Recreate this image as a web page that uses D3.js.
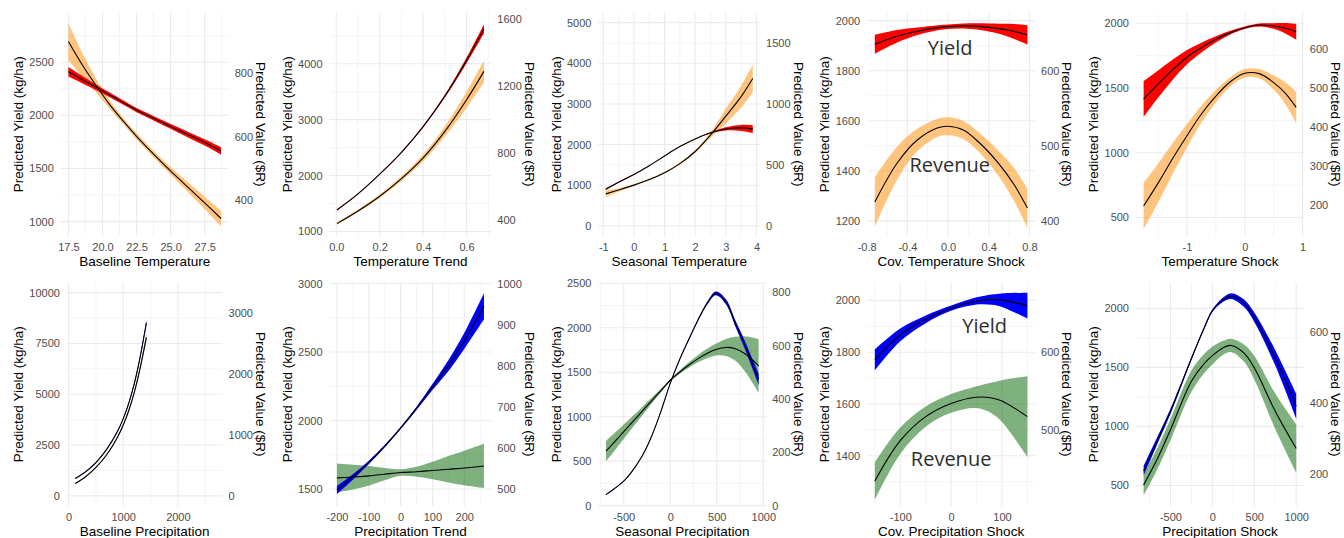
<!DOCTYPE html>
<html><head><meta charset="utf-8">
<script src="https://cdn.jsdelivr.net/npm/d3@7"></script>
<style>body{margin:0;background:#fff}svg{display:block}</style>
</head><body>
<svg id="chart" width="1344" height="538"></svg>
<script>
// ---------------- DATA ----------------
const xTitles = ["Baseline Temperature", "Temperature Trend", "Seasonal Temperature", "Cov. Temperature Shock", "Temperature Shock",
                 "Baseline Precipitation", "Precipitation Trend", "Seasonal Precipitation", "Cov. Precipitation Shock", "Precipitation Shock"];
const yTitle = "Predicted Yield (kg/ha)";
const secTitle = "Predicted Value ($R)";
const valuePerYield = 1 / 3;   // secondary axis: value = yield / 3

// 1 Baseline Temperature
const p1X = [17.5, 18.5, 19.5, 20.5, 21.5, 22.5, 23.5, 24.5, 25.5, 26.5, 27.5, 28.7];
const p1Yield = [2410, 2338, 2266, 2194, 2122, 2050, 1988, 1926, 1865, 1805, 1745, 1665];
const p1YieldHW = [45, 35, 27, 22, 20, 20, 20, 22, 24, 27, 30, 35];
const p1Rev = [898, 826, 762, 702, 650, 601, 556, 513, 472, 432, 392, 343];
const p1RevHW = [58, 38, 22, 13, 10, 10, 10, 11, 13, 16, 19, 24];
const p1XLim = [17.5, 28.7], p1YLim = [960, 2872];
const p1XTicks = [17.5, 20, 22.5, 25, 27.5], p1YTicks = [1000, 1500, 2000, 2500], p1SecTicks = [400, 600, 800];

// 2 Temperature Trend
const p2X = [0.003, 0.1, 0.2, 0.3, 0.4, 0.5, 0.6, 0.68];
const p2Yield = [1383, 1673, 2025, 2415, 2876, 3420, 4060, 4627];
const p2YieldHW = [10, 8, 8, 10, 15, 25, 50, 80];
const p2Rev = [380, 455, 543, 648, 772, 930, 1119, 1288];
const p2RevHW = [8, 8, 10, 14, 20, 30, 48, 65];
const p2XLim = [0.003, 0.68], p2YLim = [1100, 4735];
const p2XTicks = [0, 0.2, 0.4, 0.6], p2YTicks = [1000, 2000, 3000, 4000], p2SecTicks = [400, 800, 1200, 1600];

// 3 Seasonal Temperature
const p3X = [-0.92, -0.5, 0, 0.5, 1, 1.5, 2, 2.5, 3, 3.5, 3.88];
const p3Yield = [901, 1075, 1265, 1480, 1720, 1950, 2140, 2290, 2385, 2410, 2380];
const p3YieldHW = [20, 12, 8, 6, 6, 6, 8, 15, 40, 74, 94];
const p3Rev = [262, 294, 334, 380, 436, 510, 610, 745, 900, 1060, 1208];
const p3RevHW = [27, 15, 8, 6, 7, 9, 12, 22, 60, 90, 112];
const p3XLim = [-0.92, 3.88], p3YLim = [0, 5000];
const p3XTicks = [-1, 0, 1, 2, 3, 4], p3YTicks = [0, 1000, 2000, 3000, 4000, 5000], p3SecTicks = [0, 500, 1000, 1500];

// 4 Cov. Temperature Shock
const p4X = [-0.72, -0.5, -0.3, -0.1, 0, 0.15, 0.3, 0.5, 0.65, 0.78];
const p4Yield = [1906, 1938, 1958, 1972, 1976, 1979, 1977, 1968, 1957, 1943];
const p4YieldHW = [38, 25, 15, 10, 9, 10, 13, 20, 30, 38];
const p4Rev = [425, 477, 508, 524, 526, 521, 505, 476, 448, 417];
const p4RevHW = [33, 22, 15, 12, 12, 12, 13, 17, 22, 26];
const p4XLim = [-0.72, 0.78], p4YLim = [1180, 1992];
const p4XTicks = [-0.8, -0.4, 0, 0.4, 0.8], p4YTicks = [1200, 1400, 1600, 1800, 2000], p4SecTicks = [400, 500, 600];

// 5 Temperature Shock
const p5X = [-1.75, -1.5, -1.25, -1, -0.75, -0.5, -0.25, 0, 0.25, 0.5, 0.7, 0.89];
const p5Yield = [1415, 1530, 1640, 1738, 1812, 1876, 1928, 1966, 1987, 1979, 1962, 1935];
const p5YieldHW = [138, 105, 78, 55, 38, 24, 14, 10, 12, 22, 40, 60];
const p5Rev = [196, 255, 318, 377, 433, 479, 516, 538, 537, 514, 487, 450];
const p5RevHW = [60, 50, 40, 30, 22, 16, 12, 11, 12, 18, 28, 40];
const p5XLim = [-1.75, 0.89], p5YLim = [435, 2005];
const p5XTicks = [-1, 0, 1], p5YTicks = [500, 1000, 1500, 2000], p5SecTicks = [200, 300, 400, 500, 600];

// 6 Baseline Precipitation
const p6X = [120, 300, 500, 700, 900, 1000, 1100, 1200, 1300, 1424];
const p6Yield = [850, 1160, 1640, 2300, 3200, 3800, 4550, 5500, 6700, 8520];
const p6YieldHW = [15, 15, 20, 25, 35, 45, 55, 70, 90, 120];
const p6Rev = [202, 305, 466, 678, 970, 1162, 1396, 1689, 2057, 2600];
const p6RevHW = [8, 8, 10, 12, 16, 20, 25, 32, 42, 55];
const p6XLim = [98, 2688], p6YLim = [0, 10000];
const p6XTicks = [0, 1000, 2000], p6YTicks = [0, 2500, 5000, 7500, 10000], p6SecTicks = [0, 1000, 2000, 3000];

// 7 Precipitation Trend
const p7X = [-200, -150, -100, -50, 0, 50, 100, 150, 200, 262];
const p7Yield = [1493, 1588, 1694, 1812, 1944, 2088, 2244, 2400, 2580, 2834];
const p7YieldHW = [30, 20, 13, 9, 8, 12, 22, 40, 58, 95];
const p7Rev = [527, 529, 532, 536, 540, 542, 545, 548, 551, 556];
const p7RevHW = [35, 30, 24, 15, 8, 12, 21, 32, 42, 54];
const p7XLim = [-200, 262], p7YLim = [1450, 2933];
const p7XTicks = [-200, -100, 0, 100, 200], p7YTicks = [1500, 2000, 2500, 3000], p7SecTicks = [500, 600, 700, 800, 900, 1000];

// 8 Seasonal Precipitation
const p8X = [-690, -600, -500, -400, -300, -200, -100, 0, 100, 200, 300, 400, 490, 600, 700, 800, 950];
const p8Yield = [124, 190, 275, 400, 560, 780, 1060, 1375, 1640, 1870, 2090, 2280, 2387, 2290, 2050, 1812, 1421];
const p8YieldHW = [4, 4, 4, 5, 5, 5, 6, 6, 7, 9, 11, 15, 20, 28, 35, 45, 65];
const p8Rev = [204, 238, 277, 316, 354, 393, 431, 470, 500, 527, 551, 571, 585, 593, 588, 570, 524];
const p8RevHW = [38, 33, 27, 21, 16, 11, 7, 5, 7, 10, 14, 18, 22, 32, 45, 65, 100];
const p8XLim = [-690, 950], p8YLim = [110, 2395];
const p8XTicks = [-500, 0, 500, 1000], p8YTicks = [0, 500, 1000, 1500, 2000, 2500], p8SecTicks = [0, 200, 400, 600, 800];

// 9 Cov. Precipitation Shock
const p9X = [-150, -100, -50, 0, 50, 80, 100, 150];
const p9Yield = [1770, 1867, 1927, 1970, 1998, 2003, 2001, 1980];
const p9YieldHW = [41, 25, 15, 10, 14, 20, 26, 50];
const p9Rev = [434, 486, 517, 534, 542, 541, 537, 517];
const p9RevHW = [24, 17, 13, 12, 14, 20, 27, 52];
const p9XLim = [-150, 150], p9YLim = [1245, 2030];
const p9XTicks = [-100, 0, 100], p9YTicks = [1400, 1600, 1800, 2000], p9SecTicks = [500, 600];

// 10 Precipitation Shock
const p10X = [-820, -650, -500, -250, -100, 0, 125, 225, 375, 500, 750, 1000];
const p10Yield = [624, 890, 1127, 1575, 1830, 1980, 2072, 2104, 2045, 1925, 1581, 1171];
const p10YieldHW = [40, 30, 22, 14, 12, 12, 18, 25, 32, 40, 65, 106];
const p10Rev = [168, 245, 324, 461, 510, 533, 555, 562, 541, 499, 376, 271];
const p10RevHW = [30, 30, 30, 30, 27, 25, 20, 19, 24, 33, 50, 68];
const p10XLim = [-820, 1000], p10YLim = [412, 2133];
const p10XTicks = [-500, 0, 500, 1000], p10YTicks = [500, 1000, 1500, 2000], p10SecTicks = [200, 400, 600];

// in-panel labels (data coordinates, yield units)
const p4Labels = [{text: "Yield", x: 0.02, y: 1892}, {text: "Revenue", x: 0.017, y: 1426}];
const p9Labels = [{text: "Yield", x: 66, y: 1904}, {text: "Revenue", x: 0, y: 1388}];

// ---------------- BUILD ----------------
const panels = [
  {x: p1X, yld: p1Yield, yldHW: p1YieldHW, rev: p1Rev, revHW: p1RevHW, xLim: p1XLim, yLim: p1YLim, xTicks: p1XTicks, yTicks: p1YTicks, secTicks: p1SecTicks, xFmt: ".1f", kind: "temp"},
  {x: p2X, yld: p2Yield, yldHW: p2YieldHW, rev: p2Rev, revHW: p2RevHW, xLim: p2XLim, yLim: p2YLim, xTicks: p2XTicks, yTicks: p2YTicks, secTicks: p2SecTicks, xFmt: ".1f", kind: "temp"},
  {x: p3X, yld: p3Yield, yldHW: p3YieldHW, rev: p3Rev, revHW: p3RevHW, xLim: p3XLim, yLim: p3YLim, xTicks: p3XTicks, yTicks: p3YTicks, secTicks: p3SecTicks, xFmt: "d", kind: "temp"},
  {x: p4X, yld: p4Yield, yldHW: p4YieldHW, rev: p4Rev, revHW: p4RevHW, xLim: p4XLim, yLim: p4YLim, xTicks: p4XTicks, yTicks: p4YTicks, secTicks: p4SecTicks, xFmt: ".1f", kind: "temp", labels: p4Labels},
  {x: p5X, yld: p5Yield, yldHW: p5YieldHW, rev: p5Rev, revHW: p5RevHW, xLim: p5XLim, yLim: p5YLim, xTicks: p5XTicks, yTicks: p5YTicks, secTicks: p5SecTicks, xFmt: "d", kind: "temp"},
  {x: p6X, yld: p6Yield, yldHW: p6YieldHW, rev: p6Rev, revHW: p6RevHW, xLim: p6XLim, yLim: p6YLim, xTicks: p6XTicks, yTicks: p6YTicks, secTicks: p6SecTicks, xFmt: "d", kind: "precip"},
  {x: p7X, yld: p7Yield, yldHW: p7YieldHW, rev: p7Rev, revHW: p7RevHW, xLim: p7XLim, yLim: p7YLim, xTicks: p7XTicks, yTicks: p7YTicks, secTicks: p7SecTicks, xFmt: "d", kind: "precip"},
  {x: p8X, yld: p8Yield, yldHW: p8YieldHW, rev: p8Rev, revHW: p8RevHW, xLim: p8XLim, yLim: p8YLim, xTicks: p8XTicks, yTicks: p8YTicks, secTicks: p8SecTicks, xFmt: "d", kind: "precip"},
  {x: p9X, yld: p9Yield, yldHW: p9YieldHW, rev: p9Rev, revHW: p9RevHW, xLim: p9XLim, yLim: p9YLim, xTicks: p9XTicks, yTicks: p9YTicks, secTicks: p9SecTicks, xFmt: "d", kind: "precip", labels: p9Labels},
  {x: p10X, yld: p10Yield, yldHW: p10YieldHW, rev: p10Rev, revHW: p10RevHW, xLim: p10XLim, yLim: p10YLim, xTicks: p10XTicks, yTicks: p10YTicks, secTicks: p10SecTicks, xFmt: "d", kind: "precip"}
];

const bandColors = {temp: {yield: "#FF0000", rev: "#FF8C00"}, precip: {yield: "#0000FF", rev: "#006400"}};
const FONT = "'Liberation Sans', Arial, Helvetica, sans-serif";
const TICK_SIZE = 11, TITLE_SIZE = 13.5;
const locale = d3.formatLocale({decimal: ".", thousands: ",", grouping: [3], currency: ["$", ""], minus: "-"});

const svg = d3.select("#chart");
svg.append("rect").attr("width", 1344).attr("height", 538).attr("fill", "#fff");
const defs = svg.append("defs");
const meas = svg.append("text").attr("font-family", FONT).attr("font-size", TICK_SIZE).attr("visibility", "hidden");
const textW = s => { meas.text(s); return meas.node().getComputedTextLength(); };

const expand = l => { const r = l[1] - l[0]; return [l[0] - 0.05 * r, l[1] + 0.05 * r]; };
const minorBreaks = (t, dom) => {
  const s = t[1] - t[0];
  const all = [t[0] - s, ...t, t[t.length - 1] + s];
  const out = [];
  for (let k = 0; k < all.length - 1; k++) {
    const m = (all[k] + all[k + 1]) / 2;
    if (m >= dom[0] && m <= dom[1]) out.push(m);
  }
  return out;
};

const colW = 1344 / 5;
panels.forEach((p, i) => {
  const col = i % 5, row = Math.floor(i / 5);
  const colX = col * colW;
  const top = row ? 282.5 : 12.5, bottom = row ? 506 : 236;
  const fmtY = locale.format("d");
  const leftW = d3.max(p.yTicks, t => textW(fmtY(t)));
  const rightW = d3.max(p.secTicks, t => textW(fmtY(t)));
  const left = colX + 29.3 + leftW + 7;
  const right = colX + 253 - rightW - 6;

  const x = d3.scaleLinear().domain(expand(p.xLim)).range([left, right]);
  const y = d3.scaleLinear().domain(expand(p.yLim)).range([bottom, top]);
  const v = d3.scaleLinear().domain(y.domain().map(d => d * valuePerYield)).range([bottom, top]);

  const g = svg.append("g");
  // grid
  const grid = g.append("g").attr("stroke", "#EBEBEB");
  grid.selectAll("line.xm").data(minorBreaks(p.xTicks, x.domain())).join("line")
    .attr("x1", d => x(d)).attr("x2", d => x(d)).attr("y1", top).attr("y2", bottom).attr("stroke-width", 0.55);
  grid.selectAll("line.ym").data(minorBreaks(p.yTicks, y.domain())).join("line")
    .attr("y1", d => y(d)).attr("y2", d => y(d)).attr("x1", left).attr("x2", right).attr("stroke-width", 0.55);
  grid.selectAll("line.xM").data(p.xTicks.filter(t => t >= x.domain()[0] && t <= x.domain()[1])).join("line")
    .attr("x1", d => x(d)).attr("x2", d => x(d)).attr("y1", top).attr("y2", bottom).attr("stroke-width", 1.1);
  grid.selectAll("line.yM").data(p.yTicks).join("line")
    .attr("y1", d => y(d)).attr("y2", d => y(d)).attr("x1", left).attr("x2", right).attr("stroke-width", 1.1);

  // clip
  const cid = "clip" + i;
  defs.append("clipPath").attr("id", cid).append("rect")
    .attr("x", left).attr("y", top).attr("width", right - left).attr("height", bottom - top);
  const plot = g.append("g").attr("clip-path", `url(#${cid})`);

  const pts = p.x.map((xx, k) => ({x: xx, y: p.yld[k], yh: p.yldHW[k], r: p.rev[k], rh: p.revHW[k]}));
  const curve = d3.curveCatmullRom.alpha(0.5);
  const col_ = bandColors[p.kind];

  plot.append("path").datum(pts)
    .attr("d", d3.area().x(d => x(d.x)).y0(d => v(d.r - d.rh)).y1(d => v(d.r + d.rh)).curve(curve))
    .attr("fill", col_.rev).attr("fill-opacity", 0.5);
  plot.append("path").datum(pts)
    .attr("d", d3.area().x(d => x(d.x)).y0(d => y(d.y - d.yh)).y1(d => y(d.y + d.yh)).curve(curve))
    .attr("fill", col_.yield);
  plot.append("path").datum(pts)
    .attr("d", d3.line().x(d => x(d.x)).y(d => v(d.r)).curve(curve))
    .attr("fill", "none").attr("stroke", "#000").attr("stroke-width", 1.1);
  plot.append("path").datum(pts)
    .attr("d", d3.line().x(d => x(d.x)).y(d => y(d.y)).curve(curve))
    .attr("fill", "none").attr("stroke", "#000").attr("stroke-width", 1.1);

  // annotations
  if (p.labels) {
    g.selectAll("text.ann").data(p.labels).join("text")
      .attr("x", d => x(d.x)).attr("y", d => y(d.y))
      .attr("text-anchor", "middle").attr("dominant-baseline", "central")
      .attr("font-family", "'Open Sans', 'Noto Sans', sans-serif").attr("font-size", 20)
      .attr("fill", "#2E2E2E").text(d => d.text);
  }

  // axes
  const styleAxis = a => {
    a.select(".domain").remove();
    a.selectAll("text").attr("font-family", FONT).attr("font-size", TICK_SIZE).attr("fill", "#4D4D4D");
  };
  g.append("g").attr("transform", `translate(${left},0)`)
    .call(d3.axisLeft(y).tickValues(p.yTicks).tickFormat(fmtY).tickSize(0).tickPadding(7)).call(styleAxis);
  g.append("g").attr("transform", `translate(${right},0)`)
    .call(d3.axisRight(v).tickValues(p.secTicks).tickFormat(fmtY).tickSize(0).tickPadding(6)).call(styleAxis);
  g.append("g").attr("transform", `translate(0,${bottom})`)
    .call(d3.axisBottom(x).tickValues(p.xTicks).tickFormat(locale.format(p.xFmt)).tickSize(0).tickPadding(7)).call(styleAxis);

  // titles
  const midY = (top + bottom) / 2;
  g.append("text").attr("transform", `translate(${colX + 18.5},${midY}) rotate(-90)`)
    .attr("text-anchor", "middle").attr("dominant-baseline", "central")
    .attr("font-family", FONT).attr("font-size", TITLE_SIZE).attr("fill", "#000").text(yTitle);
  g.append("text").attr("transform", `translate(${colX + 260.5},${midY}) rotate(90)`)
    .attr("text-anchor", "middle").attr("dominant-baseline", "central")
    .attr("font-family", FONT).attr("font-size", TITLE_SIZE).attr("fill", "#000").text(secTitle);
  g.append("text").attr("x", (left + right) / 2).attr("y", bottom + 30)
    .attr("text-anchor", "middle")
    .attr("font-family", FONT).attr("font-size", TITLE_SIZE).attr("fill", "#000").text(xTitles[i]);
});
meas.remove();
</script>
</body></html>
